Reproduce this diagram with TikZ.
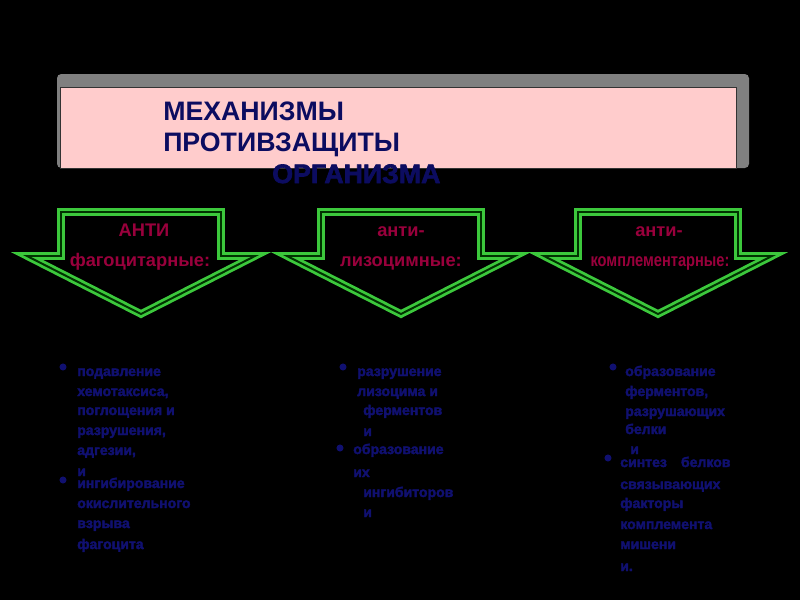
\documentclass[tikz,border=0pt]{standalone}
\usepackage{fontspec}
\setmainfont{Liberation Sans}
\newfontfamily\heavyfont{Liberation Sans}[BoldFeatures={FakeBold=2.5}]

\definecolor{navy}{RGB}{12,12,96}
\definecolor{itemblue}{RGB}{16,16,112}
\definecolor{maroon}{RGB}{153,0,60}
\definecolor{arrowgreen}{RGB}{60,200,60}
\definecolor{darkgreen}{RGB}{0,50,0}
\definecolor{bannerpink}{RGB}{255,204,204}
\definecolor{bargray}{RGB}{128,128,128}

\begin{document}
\begin{tikzpicture}
[
	x=0.25mm,
	y=-0.25mm,
	titletext/.style={font=\fontsize{19}{22}\selectfont\bfseries,text=navy,anchor=base west,inner sep=0pt},
	headtext/.style={font=\fontsize{13}{15}\selectfont\bfseries,text=maroon,anchor=base,inner sep=0pt},
	itemtext/.style={font=\fontsize{10}{12}\selectfont\heavyfont\bfseries,text=itemblue,anchor=base west,inner sep=0pt},
	itemdot/.style={circle,fill=itemblue,inner sep=0pt,minimum size=5pt},
	arrowline/.style={draw=arrowgreen,line width=2pt,double=darkgreen,double distance=1.4pt}
]

	% background
	\fill[black] (0,0) rectangle (800,600);
	\useasboundingbox (0,0) rectangle (800,600);

	% banner
	\fill[bargray,rounded corners=3pt] (57,74) rectangle (749,168);
	\draw[fill=bannerpink,draw=black!80,thin] (60,87) rectangle (736,168);

	% title
	\node[titletext] (t1) at (163,120) {МЕХАНИЗМЫ};
	\node[titletext] (t2) at (163,151) {ПРОТИВЗАЩИТЫ};
	\node[titletext,font=\fontsize{19}{22}\selectfont\heavyfont\bfseries] (t3) at (272,183) {ОРГАНИЗМА};

	% arrows
	\foreach \cx in {141,401,658} {
		\draw[arrowline]
		  (\cx-80,212) -- (\cx+80,212)
		  --  (\cx+80,256)
		  --  (\cx+114,256)
		  --  (\cx,314)
		  --  (\cx-114,256)
		  --  (\cx-80,256)
		  -- cycle;
	}

	% arrow labels
	\node[headtext] (h1a) at (144,236) {АНТИ};
	\node[headtext] (h1b) at (140,266) {фагоцитарные:};
	\node[headtext] (h2a) at (401,236) {анти-};
	\node[headtext] (h2b) at (401,266) {лизоцимные:};
	\node[headtext] (h3a) at (659,236) {анти-};
	\node[headtext,xscale=0.8] (h3b) at (660,266) {комплементарные:};

	% bullets
	\foreach \x/\y [count=\n] in {63/367,63/480,343/367,340/448,613/367,608/458} {
		\node[itemdot] (d\n) at (\x,\y) {};
	}

	% left column
	\foreach \x/\y/\txt [count=\n] in {
		77/376/подавление,
		77/396/{хемотаксиса,},
		77/415/поглощения и,
		77/435/{разрушения,},
		77/455/{адгезии,},
		77/476/и,
		77/488/ингибирование,
		77/508/окислительного,
		77/528/взрыва,
		77/549/фагоцита} {
		\node[itemtext] (ca\n) at (\x,\y) {\txt};
	}

	% middle column
	\foreach \x/\y/\txt [count=\n] in {
		357/376/разрушение,
		357/396/лизоцима и,
		363/415/ферментов,
		363/436/и,
		353/454/образование,
		353/477/их,
		363/497/ингибиторов,
		363/517/и} {
		\node[itemtext] (cb\n) at (\x,\y) {\txt};
	}

	% right column
	\foreach \x/\y/\txt [count=\n] in {
		625/376/образование,
		625/396/{ферментов,},
		625/416/разрушающих,
		625/434/белки,
		630/454/и,
		620/467/синтез\quad белков,
		620/489/связывающих,
		620/508/факторы,
		620/529/комплемента,
		620/549/мишени,
		620/571/и.} {
		\node[itemtext] (cc\n) at (\x,\y) {\txt};
	}

\end{tikzpicture}
\end{document}
